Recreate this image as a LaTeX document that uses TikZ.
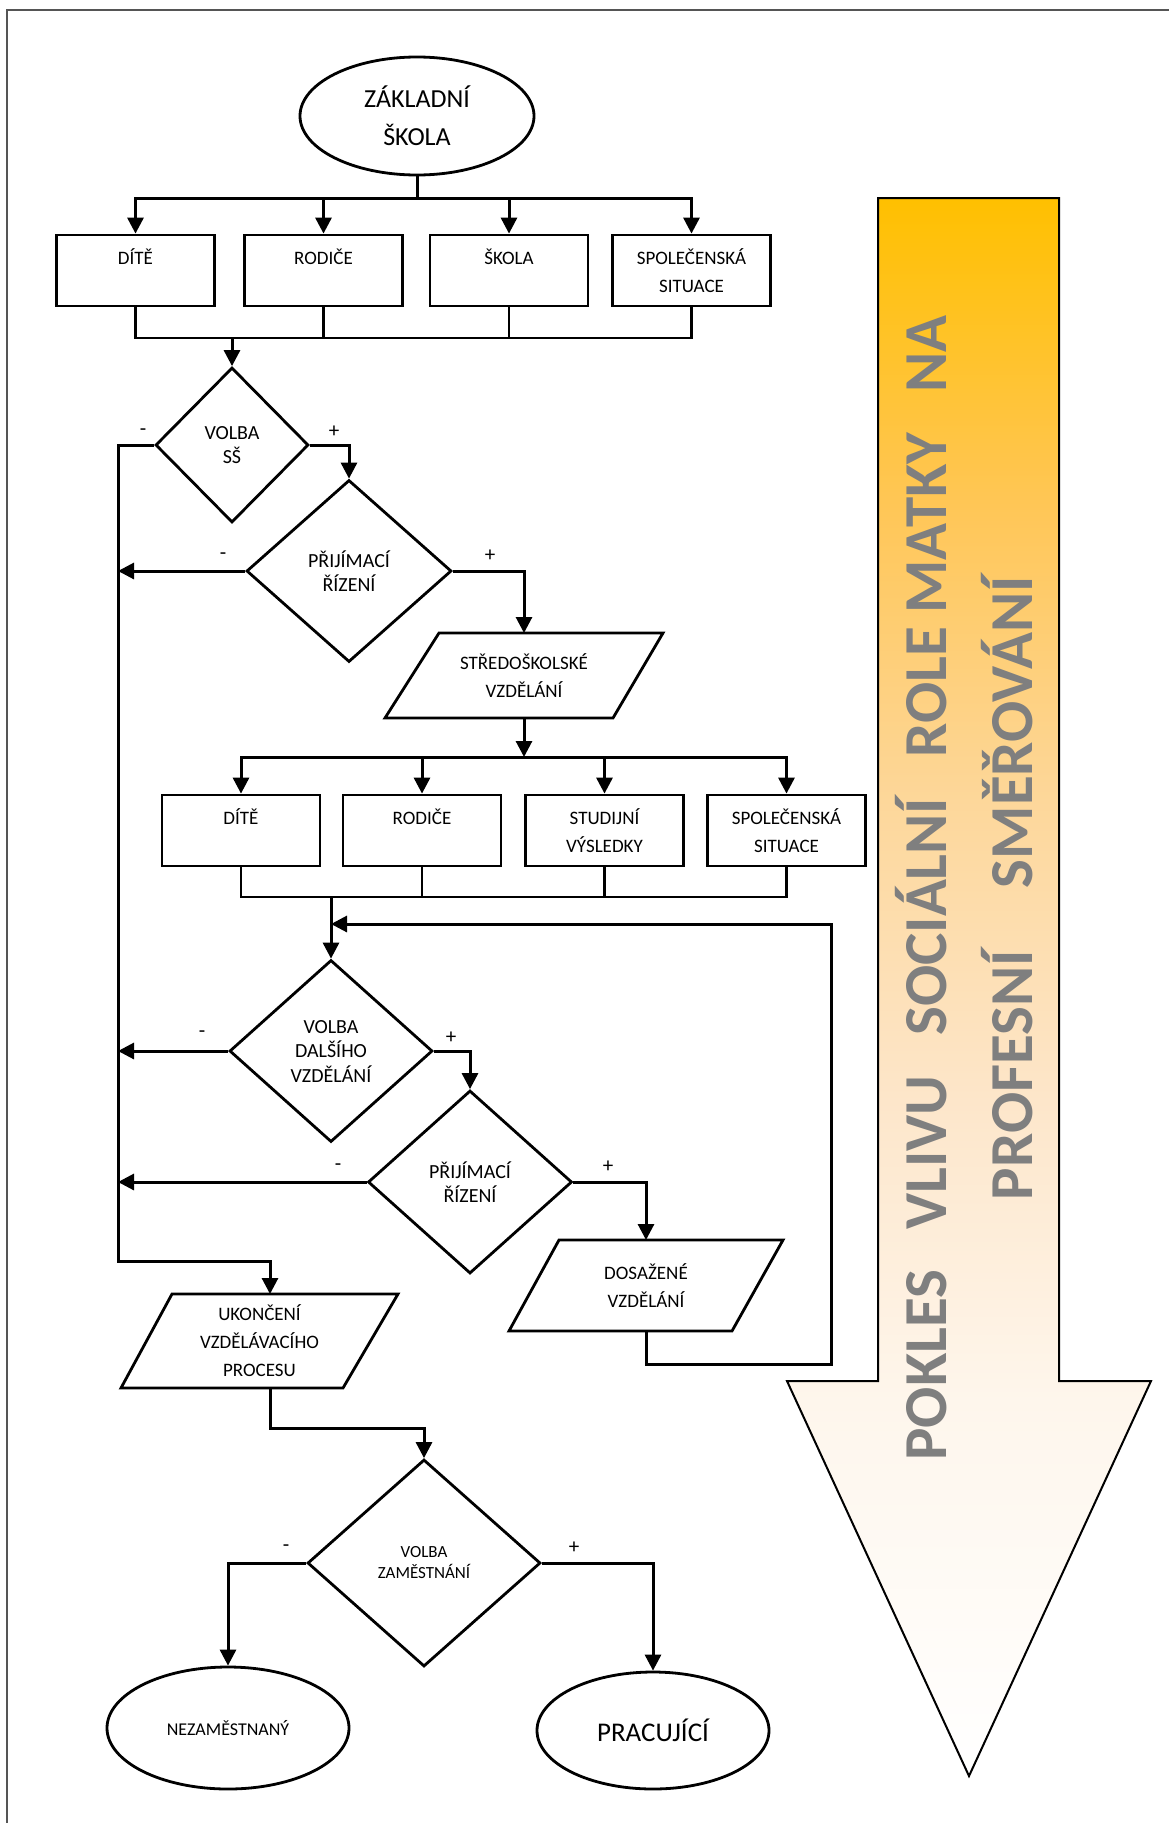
\documentclass[tikz,border=0pt]{standalone}
\usepackage{fontspec}
\setmainfont{Carlito}
\usetikzlibrary{shapes.geometric,arrows.meta,calc}
\definecolor{arrowgray}{HTML}{7F7F7F}
\definecolor{framegray}{HTML}{555555}
\definecolor{shA}{HTML}{FFFFFF}
\definecolor{shB}{HTML}{FEF6EC}
\definecolor{shC}{HTML}{FDE6CA}
\definecolor{shD}{HTML}{FDD79A}
\definecolor{shE}{HTML}{FFC655}
\definecolor{shF}{HTML}{FFC000}
\pgfdeclareverticalshading{arrowshade}{100bp}{color(0bp)=(shA); color(25bp)=(shA); color(36.9bp)=(shB); color(46.4bp)=(shC); color(55.9bp)=(shD); color(65.4bp)=(shE); color(75bp)=(shF); color(100bp)=(shF)}
\newcommand\boxfont{\fontsize{19}{28}\selectfont}
\newcommand\diafont{\fontsize{20}{24.5}\selectfont}
\begin{document}
\begin{tikzpicture}[x=1pt,y=-1pt,
  shp/.style={draw=black, line width=2.8pt, inner sep=0pt, align=center, font=\boxfont},
  rbox/.style={shp, rectangle, minimum width=158pt, minimum height=71pt},
  dia/.style={shp, diamond, font=\diafont},
  ell/.style={shp, ellipse},
  ptext/.style={rectangle, draw=none, inner sep=0pt, outer sep=0pt, align=center, font=\boxfont},
  para/.style={draw=black, line width=2.8pt, line join=miter},
  arr/.style={line width=3pt, -{Triangle[width=16pt,length=16pt]}},
  conn/.style={line width=3pt},
  coll/.style={line width=2.2pt},
  sign/.style={font=\fontsize{21}{24}\selectfont, inner sep=0pt}
]
\useasboundingbox (0,0) rectangle (1169,1823);
\fill[white] (0,0) rectangle (1169,1823);
\draw[framegray, line width=1.5pt] (7,1823) -- (7,10) -- (1169,10);

% big arrow
\shadedraw[shading=arrowshade, draw=black, line width=2pt, line join=miter]
  (878,198) -- (1059,198) -- (1059,1381) -- (1151,1381) -- (969,1776) -- (787,1381) -- (878,1381) -- cycle;
\node[rotate=90, text=arrowgray, font=\bfseries\fontsize{61}{86}\selectfont, align=center, inner sep=0pt] (arrtext) at (964,888)
  {POKLES\hspace{40pt}VLIVU\hspace{40pt}SOCIÁLNÍ\hspace{40pt}ROLE MATKY\hspace{40pt}NA\\PROFESNÍ\hspace{62pt}SMĚŘOVÁNÍ};

% top
\node[ell, minimum width=234pt, minimum height=118pt, font=\fontsize{26}{38}\selectfont] (zs) at (417,116) {ZÁKLADNÍ\\ŠKOLA};
\node[rbox] (b1) at (135.5,270.5) {DÍTĚ\\\mbox{}};
\node[rbox] (b2) at (323.5,270.5) {RODIČE\\\mbox{}};
\node[rbox] (b3) at (509,270.5) {ŠKOLA\\\mbox{}};
\node[rbox] (b4) at (691.5,270.5) {SPOLEČENSKÁ\\SITUACE};
\coordinate (bus1) at (417,198);
\coordinate (col1) at (232,338);
\draw[conn] (zs.south) -- (bus1);
\foreach \b in {b1,b2,b3,b4} \draw[arr] (bus1) -| (\b.north);
\foreach \b in {b1,b2,b3,b4} \draw[coll] (\b.south) |- (col1);

% VOLBA SS
\node[dia, minimum width=153pt, minimum height=155pt] (d1) at (232,445) {VOLBA\\SŠ};
\draw[arr] (col1) -- (d1.north);
\node[sign] (s1m) at (143,432) {-};
\node[sign] (s1p) at (334,432) {+};
\coordinate (lvtop) at (118,445);
\coordinate (lvbot) at (118,1261);

% PRIJIMACI 1
\node[dia, minimum width=205pt, minimum height=182pt] (d2) at (349,571) {PŘIJÍMACÍ\\ŘÍZENÍ};
\draw[arr] (d1.east) -| (d2.north);
\node[sign] (s2m) at (223,556) {-};
\node[sign] (s2p) at (490,556) {+};
\draw[arr] (d2.west) -- (d2.west -| lvtop);

% STREDOSKOLSKE
\node[ptext, minimum width=278pt, minimum height=85pt] (sv) at (524,675.5) {STŘEDOŠKOLSKÉ\\VZDĚLÁNÍ};
\draw[para] (sv.south west) -- ($(sv.north west)+(54,0)$) -- (sv.north east) -- ($(sv.south east)+(-50,0)$) -- cycle;
\draw[arr] (d2.east) -| (sv.north);

% second level boxes
\coordinate (bus2) at (524,757);
\draw[arr] (sv.south) -- (bus2);
\node[rbox] (c1) at (241,830.5) {DÍTĚ\\\mbox{}};
\node[rbox] (c2) at (422,830.5) {RODIČE\\\mbox{}};
\node[rbox] (c3) at (604.5,830.5) {STUDIJNÍ\\VÝSLEDKY};
\node[rbox] (c4) at (786.5,830.5) {SPOLEČENSKÁ\\SITUACE};
\foreach \b in {c1,c2,c3,c4} \draw[arr] (bus2) -| (\b.north);
\coordinate (col2) at (331,897);
\foreach \b in {c1,c2,c3,c4} \draw[coll] (\b.south) |- (col2);

% VOLBA DALSIHO
\node[dia, minimum width=203pt, minimum height=182pt] (d3) at (331,1051) {VOLBA\\DALŠÍHO\\VZDĚLÁNÍ};
\draw[arr] (col2) -- (d3.north);
\node[sign] (s3m) at (202,1034) {-};
\node[sign] (s3p) at (451,1038) {+};
\draw[arr] (d3.west) -- (d3.west -| lvtop);

% PRIJIMACI 2
\node[dia, minimum width=204pt, minimum height=183pt] (d4) at (470,1182) {PŘIJÍMACÍ\\ŘÍZENÍ};
\draw[arr] (d3.east) -| (d4.north);
\node[sign] (s4m) at (338,1167) {-};
\node[sign] (s4p) at (608,1167) {+};
\draw[arr] (d4.west) -- (d4.west -| lvtop);

% DOSAZENE
\node[ptext, minimum width=274pt, minimum height=91pt] (ds) at (646,1285.5) {DOSAŽENÉ\\VZDĚLÁNÍ};
\draw[para] (ds.south west) -- ($(ds.north west)+(50,0)$) -- (ds.north east) -- ($(ds.south east)+(-51,0)$) -- cycle;
\draw[arr] (d4.east) -| (ds.north);
\coordinate (fbc) at (831,1364);
\coordinate (fbt) at (331,924);
\draw[arr] (ds.south) |- (fbc) |- (fbt);

% UKONCENI
\node[ptext, minimum width=277pt, minimum height=94pt] (uk) at (259.5,1341) {UKONČENÍ\\VZDĚLÁVACÍHO\\PROCESU};
\draw[para] (uk.south west) -- ($(uk.north west)+(51,0)$) -- (uk.north east) -- ($(uk.south east)+(-55,0)$) -- cycle;
\draw[conn] (d1.west) -- (lvtop) -- (lvbot);
\draw[arr] (lvtop) -- (lvbot) -| ([xshift=10.5pt]uk.north);

% VOLBA ZAMESTNANI
\coordinate (ukd) at (270,1428);
\node[dia, minimum width=233pt, minimum height=207pt, font=\fontsize{17}{21}\selectfont] (d5) at (424,1563) {VOLBA\\ZAMĚSTNÁNÍ};
\draw[arr] ([xshift=10.5pt]uk.south) -- (ukd) -| (d5.north);
\node[sign] (s5m) at (286,1548) {-};
\node[sign] (s5p) at (574,1548) {+};

\node[ell, minimum width=242pt, minimum height=122pt, font=\fontsize{18}{22}\selectfont] (ne) at (228,1728) {NEZAMĚSTNANÝ};
\node[ell, minimum width=232pt, minimum height=117pt, font=\fontsize{27}{32}\selectfont] (pr) at (653,1730.5) {PRACUJÍCÍ};
\draw[arr] (d5.west) -| (ne.north);
\draw[arr] (d5.east) -| (pr.north);
\end{tikzpicture}
\end{document}
